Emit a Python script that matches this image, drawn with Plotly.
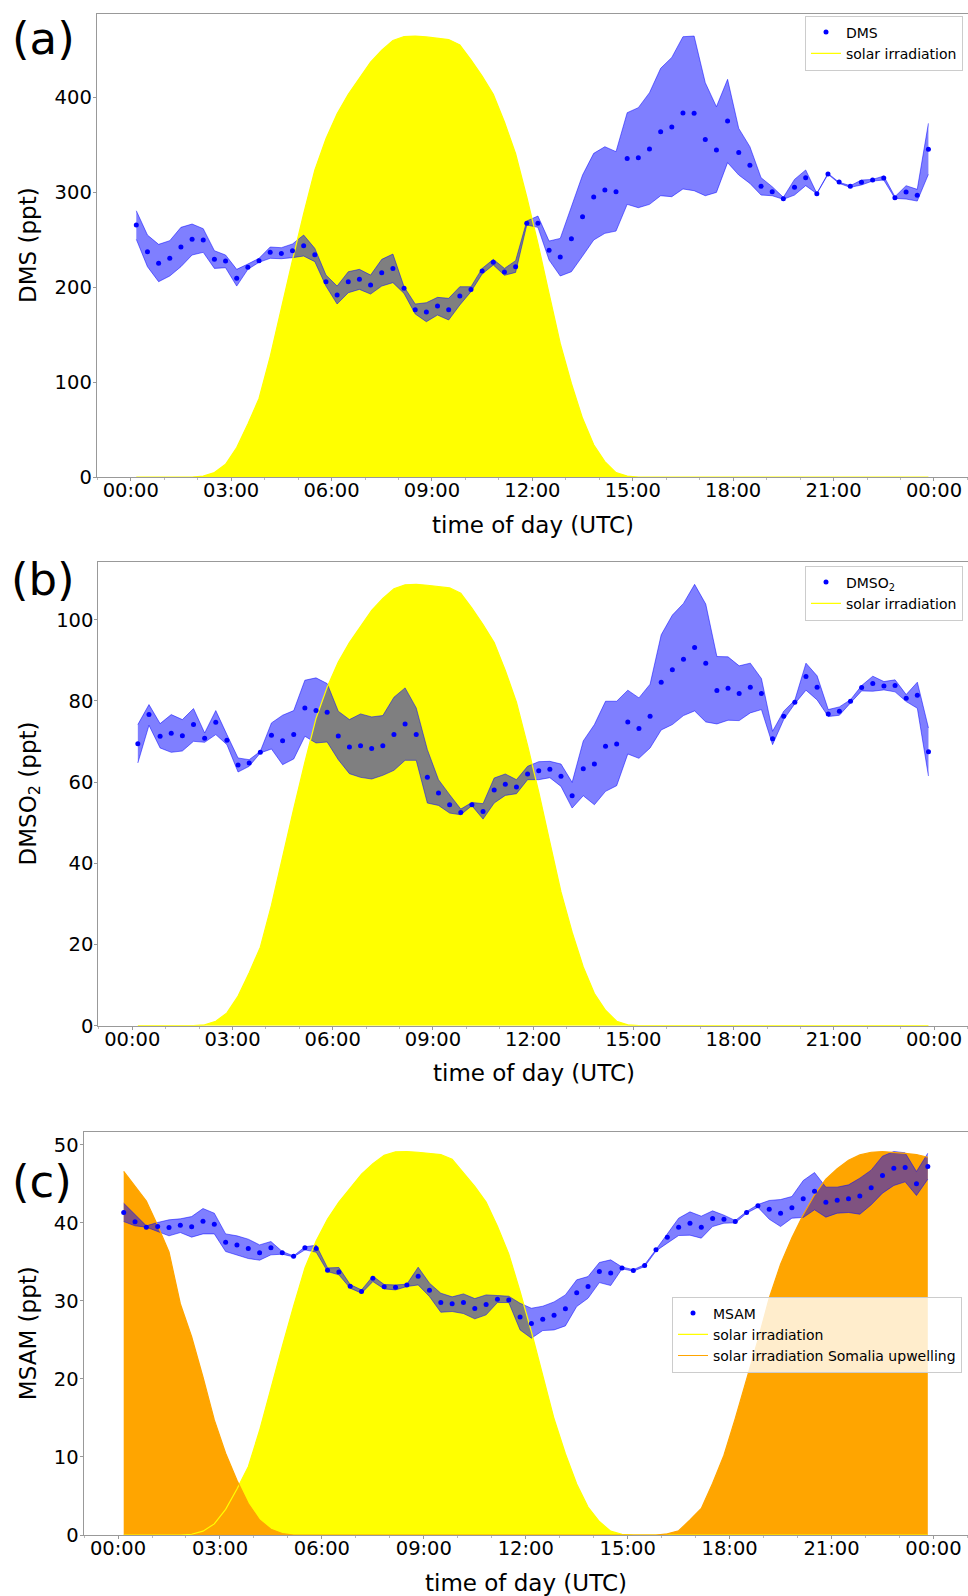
import plotly.graph_objects as go
import pandas as pd

# ---------------- data ----------------
time_of_day = pd.date_range("2000-01-01 00:10", periods=72, freq="20min")

dms = [265.3, 237.2, 224.9, 230.2, 242.1, 250.2, 249.5, 229.1, 227.4, 209.1,
       220.7, 227.7, 236.5, 235.4, 238.2, 243.5, 234.0, 205.6, 191.6, 205.6,
       208.1, 202.1, 215.1, 219.6, 198.6, 176.1, 173.7, 180.0, 176.1, 190.5,
       197.5, 216.8, 226.0, 215.8, 221.4, 267.0, 267.0, 238.6, 231.6, 250.9,
       274.0, 294.7, 302.1, 300.3, 335.4, 336.1, 345.3, 363.5, 368.4, 383.2,
       382.8, 355.4, 344.2, 374.7, 341.7, 328.1, 306.0, 300.3, 293.0, 304.9,
       315.1, 298.2, 318.9, 310.5, 306.0, 310.2, 312.6, 314.7, 294.0, 300.0,
       296.5, 344.9]
dms_hi = [280.3, 254.7, 244.9, 248.8, 262.8, 266.3, 261.4, 238.2, 233.7, 218.6,
          224.2, 230.2, 242.1, 241.4, 245.3, 254.7, 240.7, 212.6, 201.0, 216.1,
          218.6, 212.6, 229.1, 234.7, 200.3, 182.1, 183.5, 189.1, 188.1, 200.3,
          200.3, 219.6, 229.1, 219.6, 227.7, 269.5, 274.7, 248.4, 251.2, 284.6,
          317.9, 340.7, 347.7, 342.5, 383.5, 388.8, 404.6, 430.2, 441.7, 463.5,
          464.2, 415.1, 389.8, 418.6, 367.0, 347.7, 315.1, 305.6, 294.4, 313.3,
          323.2, 298.6, 319.6, 310.2, 306.7, 312.6, 313.3, 316.8, 295.1, 306.7,
          302.8, 372.3]
dms_lo = [250.2, 221.4, 205.6, 211.6, 221.4, 233.7, 236.5, 219.6, 220.3, 201.0,
          218.6, 226.0, 230.2, 229.8, 230.9, 232.6, 226.7, 201.0, 182.1, 194.0,
          197.5, 192.6, 201.0, 204.6, 193.3, 171.6, 163.5, 170.5, 165.3, 181.1,
          195.1, 213.7, 223.2, 212.3, 215.4, 265.3, 262.8, 228.4, 211.6, 216.1,
          232.6, 249.5, 256.5, 258.9, 287.0, 283.5, 287.0, 296.1, 295.1, 303.2,
          301.4, 296.1, 299.6, 330.9, 317.9, 309.1, 296.8, 296.1, 292.3, 296.8,
          306.7, 298.2, 318.6, 309.1, 304.9, 307.4, 311.6, 312.6, 293.3, 292.6,
          290.5, 318.6]

dmso2 = [69.48, 76.63, 71.29, 72.03, 71.45, 74.17, 70.79, 74.74, 70.30, 64.22,
         64.71, 67.34, 71.53, 70.22, 71.70, 78.28, 77.62, 77.21, 71.37, 68.66,
         68.98, 68.25, 68.98, 71.70, 74.33, 71.70, 61.17, 57.31, 54.43, 52.54,
         54.43, 52.78, 58.05, 59.45, 58.79, 62.00, 62.82, 63.15, 61.42, 56.65,
         63.31, 64.46, 68.82, 69.40, 74.82, 73.18, 76.22, 84.61, 87.65, 90.28,
         93.16, 89.30, 82.55, 83.13, 81.81, 83.38, 81.81, 70.71, 76.22, 79.67,
         86.01, 83.38, 76.80, 77.46, 79.92, 83.29, 84.28, 83.70, 83.79, 80.66,
         81.40, 67.51]
dmso2_hi = [74.17, 79.10, 74.41, 76.63, 75.40, 78.11, 72.11, 77.62, 71.70, 65.94,
            65.53, 67.59, 74.58, 76.47, 77.62, 85.10, 85.68, 84.28, 77.46, 75.40,
            76.80, 76.06, 76.39, 80.91, 83.21, 78.28, 68.00, 60.60, 56.90, 53.36,
            55.00, 54.68, 61.01, 62.00, 60.60, 63.89, 65.04, 65.12, 64.46, 59.94,
            70.14, 74.17, 79.92, 79.92, 82.64, 80.75, 84.12, 96.29, 101.14, 104.02,
            108.71, 103.85, 90.94, 90.86, 88.64, 89.30, 85.51, 72.52, 77.46, 80.20,
            89.30, 86.17, 77.87, 78.53, 80.30, 83.79, 86.09, 84.77, 85.19, 81.57,
            84.61, 73.34]
dmso2_lo = [64.71, 74.00, 68.41, 67.34, 67.67, 70.05, 69.81, 71.70, 69.23, 62.49,
            63.89, 67.18, 68.16, 64.30, 65.70, 71.29, 69.64, 69.89, 65.53, 62.08,
            61.17, 60.76, 61.67, 62.90, 65.37, 65.37, 54.84, 54.26, 52.37, 51.96,
            54.20, 50.89, 54.84, 56.73, 57.14, 60.60, 60.60, 61.09, 58.95, 53.61,
            56.65, 54.43, 57.72, 59.12, 66.93, 65.86, 68.41, 72.85, 74.17, 76.39,
            77.54, 74.82, 74.33, 75.24, 75.15, 77.05, 77.87, 69.23, 75.40, 79.30,
            82.64, 80.25, 76.14, 76.47, 79.51, 82.47, 82.39, 82.72, 82.23, 79.84,
            78.19, 61.50]

msam = [41.33, 40.13, 39.45, 39.53, 39.40, 39.70, 39.49, 40.22, 39.83, 37.52,
        37.18, 36.71, 36.16, 36.80, 36.16, 35.73, 36.80, 36.71, 33.93, 33.72,
        31.88, 31.20, 32.91, 31.80, 31.76, 32.05, 33.17, 31.37, 29.79, 29.62,
        29.79, 29.02, 29.53, 30.22, 30.13, 27.95, 27.10, 27.65, 28.17, 28.98,
        31.03, 31.84, 33.76, 33.59, 34.23, 33.89, 34.53, 36.54, 38.17, 39.45,
        39.96, 39.45, 40.56, 40.47, 40.17, 41.33, 42.18, 41.76, 41.24, 41.93,
        43.08, 44.06, 42.65, 42.91, 43.08, 43.46, 44.49, 46.07, 47.01, 47.10,
        45.00, 47.23]
msam_hi = [42.52, 41.03, 39.62, 40.05, 40.39, 40.52, 40.81, 41.84, 41.24, 38.59,
           38.34, 37.91, 37.18, 37.61, 36.33, 35.77, 36.93, 37.14, 34.23, 34.28,
           32.10, 31.41, 33.17, 32.10, 32.05, 32.14, 34.32, 32.27, 30.99, 30.52,
           30.90, 30.30, 30.77, 30.69, 30.60, 29.70, 29.06, 29.32, 29.87, 30.77,
           32.70, 33.12, 34.92, 35.26, 34.35, 34.00, 34.65, 36.58, 38.59, 40.60,
           41.41, 40.86, 41.54, 40.99, 40.30, 41.46, 42.35, 42.87, 42.99, 43.38,
           45.43, 46.45, 44.58, 44.58, 44.87, 45.73, 46.76, 48.55, 49.15, 48.98,
           46.58, 48.93]
msam_lo = [40.17, 39.62, 39.45, 38.89, 38.34, 38.76, 38.17, 38.59, 38.59, 36.33,
           35.86, 35.43, 35.22, 35.90, 35.99, 35.64, 36.54, 36.24, 33.76, 33.34,
           31.63, 30.99, 32.48, 31.54, 31.41, 31.84, 32.05, 30.56, 28.55, 28.64,
           28.38, 27.70, 28.21, 29.79, 29.79, 26.28, 25.22, 26.20, 26.28, 26.80,
           29.28, 30.34, 32.35, 31.97, 34.11, 33.81, 34.40, 36.40, 37.40, 38.38,
           38.42, 38.04, 39.53, 39.96, 40.00, 41.24, 42.00, 40.47, 39.53, 40.60,
           40.69, 41.67, 40.73, 41.24, 41.33, 41.11, 42.31, 43.81, 44.79, 45.26,
           43.51, 45.60]

# relative solar irradiation (scaled to each panel's maximum in the plot)
solar_rel = [0, 0, 0, 0, 0, 0, 0.002, 0.010, 0.029, 0.067,
             0.120, 0.178, 0.273, 0.386, 0.492, 0.597, 0.696, 0.767, 0.824, 0.868,
             0.906, 0.941, 0.968, 0.990, 0.999, 1.000, 0.998, 0.995, 0.992, 0.980,
             0.946, 0.909, 0.868, 0.805, 0.733, 0.635, 0.530, 0.416, 0.303, 0.212,
             0.133, 0.073, 0.035, 0.010, 0.002, 0, 0, 0, 0, 0,
             0, 0, 0, 0, 0, 0, 0, 0, 0, 0,
             0, 0, 0, 0, 0, 0, 0, 0, 0, 0,
             0, 0]
somalia_rel = [0.948, 0.909, 0.871, 0.807, 0.738, 0.603, 0.517, 0.412, 0.300, 0.213,
               0.143, 0.082, 0.039, 0.015, 0.004, 0, 0, 0, 0, 0,
               0, 0, 0, 0, 0, 0, 0, 0, 0, 0,
               0, 0, 0, 0, 0, 0, 0, 0, 0, 0,
               0, 0, 0, 0, 0, 0, 0, 0, 0.003, 0.011,
               0.039, 0.069, 0.135, 0.208, 0.304, 0.404, 0.508, 0.618, 0.706, 0.775,
               0.835, 0.887, 0.928, 0.955, 0.977, 0.991, 0.998, 1.000, 0.998, 0.995,
               0.992, 0.985]

panel_labels = ["(a)", "(b)", "(c)"]
y_titles = ["DMS (ppt)", "DMSO<sub>2</sub> (ppt)", "MSAM (ppt)"]
series_names = ["DMS", "DMSO<sub>2</sub>", "MSAM"]
x_title = "time of day (UTC)"

# ---------------- layout helpers ----------------
W, H = 968, 1596
FONT = "DejaVu Sans"


def fx(px):
    return px / W


def fy(py):
    return 1 - py / H


BAND = "rgba(0,0,255,0.5)"
YELLOW = "#ffff00"
ORANGE = "#ffa500"

panels = [
    dict(mid=dms, hi=dms_hi, lo=dms_lo, somalia=False, ax="", dtick=100,
         left=96.7, top=14, bottom=477, legend="legend"),
    dict(mid=dmso2, hi=dmso2_hi, lo=dmso2_lo, somalia=False, ax="2", dtick=20,
         left=98.3, top=562.3, bottom=1025.7, legend="legend2"),
    dict(mid=msam, hi=msam_hi, lo=msam_lo, somalia=True, ax="3", dtick=10,
         left=83.5, top=1132.3, bottom=1535, legend="legend3"),
]

fig = go.Figure()

for k, p in enumerate(panels):
    xa = "x" + p["ax"]
    ya = "y" + p["ax"]
    lg = p["legend"]
    peak = max(p["hi"])
    solar = [v * peak for v in solar_rel]
    common = dict(x=time_of_day, xaxis=xa, yaxis=ya, hoverinfo="skip", legend=lg)

    # solar irradiation filled area
    fig.add_trace(go.Scatter(y=solar, mode="lines", line=dict(width=0, color=YELLOW),
                             fill="tozeroy", fillcolor=YELLOW, showlegend=False, **common))
    if p["somalia"]:
        somalia = [v * peak for v in somalia_rel]
        fig.add_trace(go.Scatter(y=somalia, mode="lines", line=dict(width=0, color=ORANGE),
                                 fill="tozeroy", fillcolor=ORANGE, showlegend=False, **common))

    # uncertainty band
    fig.add_trace(go.Scatter(y=p["lo"], mode="lines", line=dict(width=1, color=BAND),
                             showlegend=False, **common))
    fig.add_trace(go.Scatter(y=p["hi"], mode="lines", line=dict(width=1, color=BAND),
                             fill="tonexty", fillcolor=BAND, showlegend=False, **common))

    # solar lines (legend entries)
    fig.add_trace(go.Scatter(y=solar, mode="lines", line=dict(width=1.2, color=YELLOW),
                             name="solar irradiation", legendrank=2, **common))
    if p["somalia"]:
        fig.add_trace(go.Scatter(y=somalia, mode="lines", line=dict(width=1.2, color=ORANGE),
                                 name="solar irradiation Somalia upwelling",
                                 legendrank=3, **common))

    # data points
    fig.add_trace(go.Scatter(y=p["mid"], mode="markers",
                             marker=dict(color="blue", size=5),
                             name=series_names[k], legendrank=1, **common))

layout = dict(
    template="none",
    width=W, height=H,
    margin=dict(l=0, r=0, t=0, b=0, pad=0, autoexpand=False),
    paper_bgcolor="white", plot_bgcolor="white",
    font=dict(family=FONT, color="black"),
    showlegend=True,
)

axis_line = "#999999"
for k, p in enumerate(panels):
    xname = "xaxis" + p["ax"]
    yname = "yaxis" + p["ax"]
    ymax = max(p["hi"]) * 1.05
    layout[xname] = dict(
        domain=[fx(p["left"]), 1], anchor="y" + p["ax"], type="date", automargin=False,
        range=["1999-12-31 22:59:00", "2000-01-02 01:01:00"],
        tickformat="%H:%M", tick0="2000-01-01 00:00", dtick=3 * 3600 * 1000,
        showline=True, linecolor=axis_line, linewidth=1, mirror=True,
        ticks="outside", ticklen=3, tickcolor=axis_line, ticklabelstandoff=-7,
        tickfont=dict(size=19.5, family=FONT, color="black"),
        showgrid=False, zeroline=False,
        minor=dict(dtick=3600 * 1000, ticks="outside", ticklen=2, tickcolor="#bbbbbb",
                   showgrid=False),
    )
    layout[yname] = dict(
        domain=[fy(p["bottom"]), fy(p["top"])], anchor="x" + p["ax"], automargin=False,
        range=[0, ymax], dtick=p["dtick"],
        showline=True, linecolor=axis_line, linewidth=1,
        ticks="outside", ticklen=3, tickcolor=axis_line, ticklabelstandoff=-3,
        tickfont=dict(size=19.5, family=FONT, color="black"),
        showgrid=False, zeroline=False,
    )

leg_common = dict(bgcolor="rgba(255,255,255,0.8)", bordercolor="#cccccc", borderwidth=1,
                  font=dict(size=14, family=FONT, color="black"),
                  xanchor="right", yanchor="top", traceorder="normal", tracegroupgap=0)
layout["legend"] = dict(x=fx(963), y=fy(15.5), **leg_common)
layout["legend2"] = dict(x=fx(963), y=fy(565.5), **leg_common)
layout["legend3"] = dict(x=fx(962), y=fy(1296.5), **leg_common)

annotations = []
label_pos = [(43, 38.7), (43, 580), (42, 1181)]
ytitle_pos = [(27.5, 245.5), (29.5, 794), (27.5, 1333.7)]
xtitle_pos = [(532.5, 525), (533.5, 1073), (526, 1583)]
for k in range(3):
    annotations.append(dict(text=panel_labels[k], x=fx(label_pos[k][0]), y=fy(label_pos[k][1]),
                            xref="paper", yref="paper", showarrow=False,
                            xanchor="center", yanchor="middle",
                            font=dict(size=45, family=FONT, color="black")))
    annotations.append(dict(text=y_titles[k], x=fx(ytitle_pos[k][0]), y=fy(ytitle_pos[k][1]),
                            xref="paper", yref="paper", showarrow=False, textangle=-90,
                            xanchor="center", yanchor="middle",
                            font=dict(size=23, family=FONT, color="black")))
    annotations.append(dict(text=x_title, x=fx(xtitle_pos[k][0]), y=fy(xtitle_pos[k][1]),
                            xref="paper", yref="paper", showarrow=False,
                            xanchor="center", yanchor="middle",
                            font=dict(size=23, family=FONT, color="black")))
layout["annotations"] = annotations

fig.update_layout(**layout)
fig.write_html("out.html")
